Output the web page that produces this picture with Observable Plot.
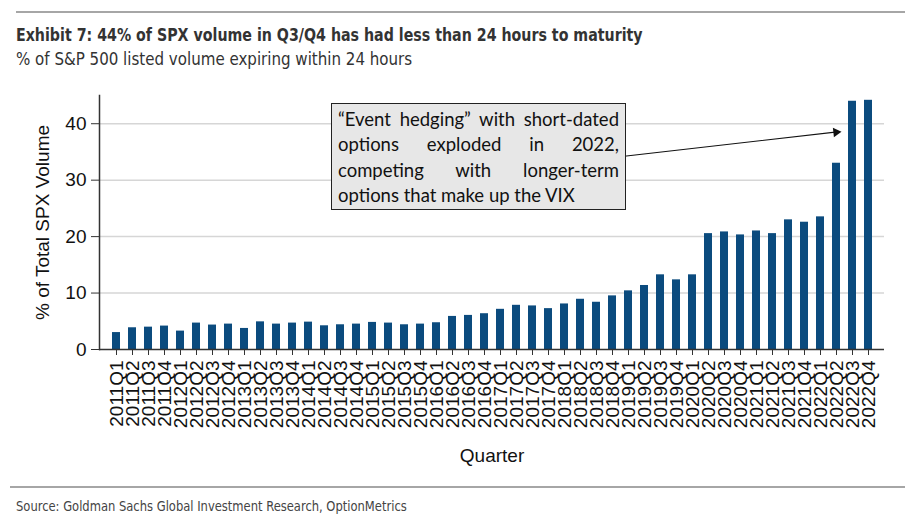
<!DOCTYPE html>
<html>
<head>
<meta charset="utf-8">
<script src="https://cdn.jsdelivr.net/npm/d3@7"></script>
<script src="https://cdn.jsdelivr.net/npm/@observablehq/plot@0.6"></script>
<style>
  html, body { margin: 0; padding: 0; background: #fff; }
  #wrap { position: relative; width: 919px; height: 529px; overflow: hidden; background: #fff; }
  .cond { font-family: "Liberation Sans Narrow", "Arial Narrow", "DejaVu Sans Condensed", sans-serif; font-stretch: condensed; transform-origin: 0 50%; }
  #topline { position: absolute; left: 16px; top: 11px; width: 889px; height: 2px; background: #a6a6a6; }
  #title { position: absolute; left: 16px; top: 25px; font-size: 17px; font-weight: bold; color: #333; white-space: nowrap; transform: scaleX(0.929); }
  #subtitle { position: absolute; left: 16px; top: 49px; font-size: 17px; color: #333; white-space: nowrap; transform: scaleX(0.985); }
  #chart { position: absolute; left: 0; top: 80px; }
  #note { position: absolute; left: 331px; top: 103px; width: 281px; height: 98px; padding: 3px 6px 4px 6px;
          background: #e7e7e7; border: 1px solid #222; font-family: Lato, "Open Sans", sans-serif; font-size: 18.5px;
          line-height: 25.3px; color: #111; }
  #note div { white-space: nowrap; }
  #note div.j { text-align: justify; text-align-last: justify; }
  #botline { position: absolute; left: 10px; top: 486px; width: 895px; height: 2px; background: #a6a6a6; }
  #source { position: absolute; left: 16px; top: 498px; font-size: 13.5px; color: #444; white-space: nowrap; transform: scaleX(0.95); }
</style>
</head>
<body>
<div id="wrap">
  <div id="topline"></div>
  <div id="title" class="cond"></div>
  <div id="subtitle" class="cond"></div>
  <div id="chart"></div>
  <div id="note"></div>
  <div id="botline"></div>
  <div id="source" class="cond"></div>
</div>
<script>
// ---- data ----
const years = [2011, 2012, 2013, 2014, 2015, 2016, 2017, 2018, 2019, 2020, 2021, 2022];
const qNames = ["Q1", "Q2", "Q3", "Q4"];
const quarters = years.flatMap(y => qNames.map(q => `${y}${q}`));
const values = [
  3.0, 3.85, 3.96, 4.15, 3.26, 4.68, 4.33, 4.5, 3.73, 4.9, 4.5, 4.68,
  4.85, 4.2, 4.38, 4.5, 4.8, 4.68, 4.38, 4.5, 4.74, 5.86, 6.04, 6.34,
  7.12, 7.83, 7.72, 7.24, 8.07, 8.9, 8.37, 9.5, 10.39, 11.34, 13.23, 12.34,
  13.23, 20.53, 20.83, 20.3, 21.0, 20.53, 22.97, 22.55, 23.5, 33.0, 43.98, 44.15
];
const yTicks = [0, 10, 20, 30, 40];
const titleText = "Exhibit 7: 44% of SPX volume in Q3/Q4 has had less than 24 hours to maturity";
const subtitleText = "% of S&P 500 listed volume expiring within 24 hours";
const sourceText = "Source: Goldman Sachs Global Investment Research, OptionMetrics";
const yLabel = "% of Total SPX Volume";
const xLabel = "Quarter";
const noteLines = [
  "\u201CEvent hedging\u201D with short-dated",
  "options exploded in 2022,",
  "competing with longer-term",
  "options that make up the VIX"
];
// arrow annotation (from behind the box edge to the 2022 bars)
const arrowFrom = {q: "2018Q3", v: 34.06};
const arrowTo = {q: "2022Q1", v: 38.6};

const data = quarters.map((q, i) => ({q, v: values[i]}));

document.getElementById("title").textContent = titleText;
document.getElementById("subtitle").textContent = subtitleText;
document.getElementById("source").textContent = sourceText;
const note = document.getElementById("note");
noteLines.forEach((t, i) => {
  const d = document.createElement("div");
  if (i < noteLines.length - 1) d.className = "j";
  d.textContent = t;
  note.appendChild(d);
});

const chart = Plot.plot({
  width: 919,
  height: 400,
  marginLeft: 99,
  marginRight: 35,
  marginTop: 15,
  marginBottom: 131,
  style: {fontFamily: "'Liberation Sans', Arial, sans-serif", fontSize: "19px", color: "#111", background: "transparent"},
  x: {domain: quarters, padding: 0.52, align: 0.5},
  y: {domain: [0, 45]},
  marks: [
    Plot.gridY(yTicks.filter(d => d > 0), {stroke: "#d6d6d6", strokeOpacity: 1, strokeWidth: 1.5}),
    Plot.barY(data, {x: "q", y: "v", fill: "#0b4b7e"}),
    Plot.ruleY([0], {stroke: "#333", strokeWidth: 1.5}),
    Plot.frame({anchor: "left", stroke: "#333", strokeWidth: 1.5}),
    Plot.axisY({ticks: yTicks, tickSize: 8, tickPadding: 5, fontSize: 19, label: yLabel, labelAnchor: "center", labelOffset: 64, labelArrow: "none", stroke: "#333"}),
    Plot.axisX({tickRotate: -90, tickSize: 6, tickPadding: 5, fontSize: 19, label: xLabel, labelAnchor: "center", labelOffset: 112, labelArrow: "none", stroke: "#333"}),
    Plot.arrow([{x1: arrowFrom.q, y1: arrowFrom.v, x2: arrowTo.q, y2: arrowTo.v}], {
      x1: "x1", y1: "y1", x2: "x2", y2: "y2", dx: 19, stroke: "#111", strokeWidth: 1.2, headLength: 0, bend: 0
    }),
    Plot.dot([arrowTo], {x: "q", y: "v", dx: 15.6, dy: 0.6, symbol: "triangle", r: 3.5, rotate: 83.7, fill: "#111", stroke: "none"})
  ]
});
document.getElementById("chart").appendChild(chart);
</script>
</body>
</html>
